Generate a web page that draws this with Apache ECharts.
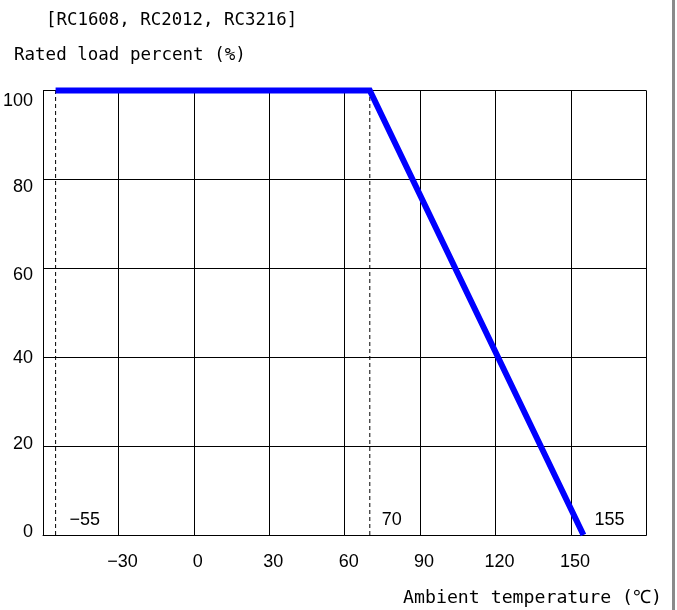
<!DOCTYPE html>
<html>
<head>
<meta charset="utf-8">
<script src="https://cdn.jsdelivr.net/npm/echarts@6/dist/echarts.min.js"></script>
<style>
html,body{margin:0;padding:0;background:#fff;}
#c{width:677px;height:610px;}
</style>
</head>
<body>
<div id="c"></div>
<script>
// Derating curve (ambient temperature in °C vs rated load %)
const curveTemp = [-55, 70, 155];
const curveLoad = [100, 100, 0];
// Dashed reference lines
const refTemps = [-55, 70];
// Annotated temperatures
const noteTemps = [-55, 70, 155];
const noteLabels = ['-55', '70', '155'];
// Axis ranges
const xMin = -60, xMax = 180, xStep = 30;
const yMin = 0, yMax = 100, yStep = 20;

const titleText = '[RC1608, RC2012, RC3216]';
const yName = 'Rated load percent (%)';
const xName = 'Ambient temperature (\u2103)';

const chart = echarts.init(document.getElementById('c'), null, {renderer: 'canvas'});
const monoFont = '"DejaVu Sans Mono", monospace';
const sansFont = '"Liberation Sans", Arial, sans-serif';
const minus = s => String(s).replace('-', '\u2212');

// small vertical nudges of the y tick labels (as placed in the original drawing)
const yNudge = {0: -3, 20: -2, 40: 1, 60: 7, 80: 8, 100: 11};
const yRich = {};
Object.keys(yNudge).forEach(k => {
  const d = yNudge[k];
  yRich['v' + k] = {
    fontFamily: sansFont, fontSize: 18, color: '#000',
    padding: d >= 0 ? [2 * d, 0, 0, 0] : [0, 0, -2 * d, 0]
  };
});

const series = [];
refTemps.forEach(t => {
  series.push({
    type: 'line', silent: true, symbol: 'none', z: 2,
    data: [[t, yMin], [t, yMax]],
    lineStyle: {color: '#000', width: 1, type: [4, 3]}
  });
});
series.push({
  type: 'line', symbol: 'none', z: 5, clip: false,
  data: curveTemp.map((t, i) => [t, curveLoad[i]]),
  lineStyle: {color: '#0000ff', width: 6, join: 'miter'}
});
const distances = [14, 12, 11];
series.push({
  type: 'scatter', symbolSize: 0, z: 6, silent: true,
  itemStyle: {opacity: 1},
  data: noteTemps.map((t, i) => ({
    value: [t, yMin],
    label: {distance: distances[i]}
  })),
  label: {
    show: true, position: 'right', offset: [0, -15],
    formatter: p => minus(noteLabels[p.dataIndex]),
    color: '#000', opacity: 1, fontFamily: sansFont, fontSize: 18
  }
});

chart.setOption({
  animation: false,
  backgroundColor: '#fff',
  title: [
    {text: titleText, left: 46, top: 10, padding: 0,
     textStyle: {fontFamily: monoFont, fontSize: 17.4, fontWeight: 'normal', color: '#000', lineHeight: 20}},
    {text: yName, left: 14, top: 45, padding: 0,
     textStyle: {fontFamily: monoFont, fontSize: 17.5, fontWeight: 'normal', color: '#000', lineHeight: 20}},
    {text: xName, right: 15, top: 588, padding: 0,
     textStyle: {fontFamily: monoFont, fontSize: 18.2, fontWeight: 'normal', color: '#000', lineHeight: 20}}
  ],
  grid: {left: 41.5, right: 30.7, top: 90.5, bottom: 75, containLabel: false},
  xAxis: {
    type: 'value', min: xMin, max: xMax, interval: xStep,
    axisLine: {show: true, lineStyle: {color: '#000', width: 1}},
    axisTick: {show: false},
    splitLine: {show: true, lineStyle: {color: '#000', width: 1}},
    axisLabel: {
      margin: 18, color: '#000', fontFamily: sansFont, fontSize: 18, lineHeight: 18,
      padding: [0, 0, 0, 8],
      formatter: v => (v === xMin || v === xMax) ? '' : minus(v)
    }
  },
  yAxis: {
    type: 'value', min: yMin, max: yMax, interval: yStep,
    axisLine: {show: true, lineStyle: {color: '#000', width: 1}},
    axisTick: {show: false},
    splitLine: {show: true, lineStyle: {color: '#000', width: 1}},
    axisLabel: {
      margin: 10, color: '#000', fontFamily: sansFont, fontSize: 18,
      formatter: v => '{v' + v + '|' + v + '}',
      rich: yRich
    }
  },
  graphic: [
    {type: 'rect', left: 672, top: 0, shape: {width: 3, height: 610}, style: {fill: '#8a8a8a'}, silent: true}
  ],
  series: series
});
</script>
</body>
</html>
